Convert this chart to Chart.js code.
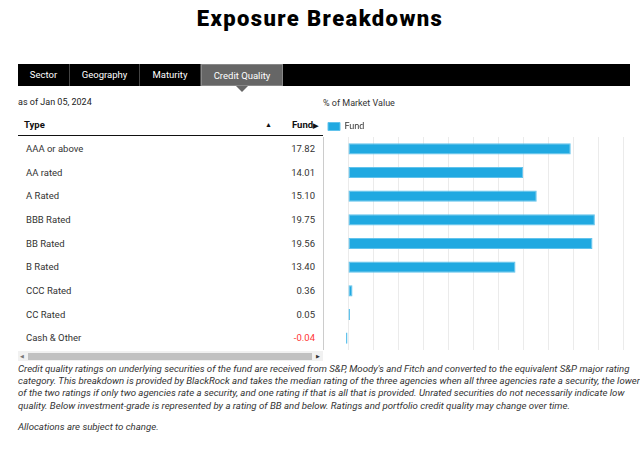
<!DOCTYPE html>
<html>
<head>
<meta charset="utf-8">
<script src="https://cdn.jsdelivr.net/npm/chart.js@4.4.1/dist/chart.umd.min.js"></script>
<style>
  html, body { margin: 0; padding: 0; background: #fff; }
  body { width: 640px; height: 457px; position: relative; overflow: hidden; font-family: Roboto, "Noto Sans", sans-serif; color: #333; }
  .abs { position: absolute; }
  #title { left: 0; width: 640px; top: 6px; text-align: center; font-size: 22px; font-weight: 900; color: #000; letter-spacing: 1.4px; }
  #tabs { left: 18px; top: 64px; width: 612px; height: 22px; background: #000; }
  .tab { position: absolute; top: 0; height: 22px; line-height: 22px; color: #fff; font-size: 9.5px; text-align: center; border-right: 1px solid #444; box-sizing: border-box; }
  .tab.on { background: #666; border: 1px solid #888; }
  #tri { left: 236px; top: 86px; width: 0; height: 0; border-left: 6px solid transparent; border-right: 6px solid transparent; border-top: 6px solid #666; }
  #asof { left: 18px; top: 97px; font-size: 9px; color: #222; }
  #mv { left: 323px; top: 98px; font-size: 9px; color: #333; }
  #thead { left: 18px; top: 117px; width: 305px; height: 18px; border-bottom: 1.5px solid #111; }
  #thead span { position: absolute; top: 2px; font-size: 9.5px; font-weight: bold; color: #111; }
  #rows { left: 18px; top: 137px; width: 305px; height: 213px; border-right: 1px solid #ccc; }
  .row { position: absolute; left: 0; width: 305px; height: 23.67px; line-height: 23.67px; font-size: 9.5px; color: #333; }
  .row .n { position: absolute; left: 8px; }
  .row .v { position: absolute; right: 8px; }
  #scroll { left: 18px; top: 351px; width: 305px; height: 10px; background: #f1f1f1; }
  #thumb { left: 28px; top: 353px; width: 284px; height: 7px; background: #c1c1c1; }
  #foot { left: 18px; top: 363px; width: 622px; font-size: 9.65px; font-style: italic; color: #333; line-height: 12.2px; white-space: nowrap; }
  #foot2 { left: 18px; top: 421px; font-size: 9.65px; font-style: italic; color: #333; line-height: 12px; }
  #chartBox { left: 323px; top: 112px; width: 310px; height: 238px; }
</style>
</head>
<body>
<div id="title" class="abs">Exposure Breakdowns</div>
<div id="tabs" class="abs">
  <div class="tab" style="left:0;width:52px">Sector</div>
  <div class="tab" style="left:52px;width:70px">Geography</div>
  <div class="tab" style="left:122px;width:61px">Maturity</div>
  <div class="tab on" style="left:183px;width:82px">Credit Quality</div>
</div>
<div id="tri" class="abs"></div>
<div id="asof" class="abs">as of Jan 05, 2024</div>
<div id="mv" class="abs">% of Market Value</div>
<div id="thead" class="abs">
  <span style="left:6px">Type</span>
  <span style="left:247px;font-size:7px;top:4px">▲</span>
  <span style="left:274px">Fund<span style="position:static;font-size:7px">▶</span></span>
</div>
<div id="rows" class="abs"></div>
<div id="scroll" class="abs"></div>
<div id="thumb" class="abs"></div>
<div class="abs" style="left:20px;top:353px;font-size:5px;color:#777">◀</div>
<div class="abs" style="left:316px;top:353px;font-size:5px;color:#333">▶</div>
<div id="foot" class="abs">Credit quality ratings on underlying securities of the fund are received from S&amp;P, Moody's and Fitch and converted to the equivalent S&amp;P major rating<br>category. This breakdown is provided by BlackRock and takes the median rating of the three agencies when all three agencies rate a security, the lower<br>of the two ratings if only two agencies rate a security, and one rating if that is all that is provided. Unrated securities do not necessarily indicate low<br>quality. Below investment-grade is represented by a rating of BB and below. Ratings and portfolio credit quality may change over time.</div>
<div id="foot2" class="abs">Allocations are subject to change.</div>
<div id="chartBox" class="abs"><canvas id="chart"></canvas></div>
<script>
// Credit quality breakdown (% of market value)
const categories = ['AAA or above', 'AA rated', 'A Rated', 'BBB Rated', 'BB Rated', 'B Rated', 'CCC Rated', 'CC Rated', 'Cash & Other'];
const fundValues = [17.82, 14.01, 15.10, 19.75, 19.56, 13.40, 0.36, 0.05, -0.04];
const seriesName = 'Fund';

// table rows
const rowsEl = document.getElementById('rows');
categories.forEach((name, i) => {
    const row = document.createElement('div');
    row.className = 'row';
    row.style.top = (i * 23.67) + 'px';
    const v = fundValues[i];
    row.innerHTML = '<span class="n"></span><span class="v"></span>';
    row.querySelector('.n').textContent = name;
    const vEl = row.querySelector('.v');
    vEl.textContent = v.toFixed(2);
    if (v < 0) vEl.style.color = '#f33';
    rowsEl.appendChild(row);
});

new Chart(document.getElementById('chart'), {
    type: 'bar',
    data: {
        labels: categories,
        datasets: [{
            label: seriesName,
            data: fundValues,
            backgroundColor: '#20a9e1',
            borderColor: '#62c3ec',
            borderWidth: 1,
            borderSkipped: false,
            categoryPercentage: 1,
            barPercentage: 0.47,
            minBarLength: 2,
            clip: false
        }]
    },
    options: {
        indexAxis: 'y',
        responsive: true,
        maintainAspectRatio: false,
        animation: false,
        layout: { padding: { left: 0, right: 10, top: 5, bottom: 0 } },
        plugins: {
            legend: {
                align: 'start',
                maxHeight: 20,
                labels: {
                    boxWidth: 12,
                    boxHeight: 8,
                    padding: 5,
                    color: '#333',
                    font: { family: 'Lato', size: 9 }
                }
            },
            tooltip: { enabled: false }
        },
        scales: {
            x: {
                min: 0,
                max: 22,
                ticks: { display: false, stepSize: 2 },
                grid: { color: '#ebebeb', drawTicks: false },
                border: { display: false }
            },
            y: {
                ticks: { display: false },
                grid: { display: false },
                border: { display: false },
                afterFit: (scale) => { scale.width = 25; }
            }
        }
    }
});
</script>
</body>
</html>
